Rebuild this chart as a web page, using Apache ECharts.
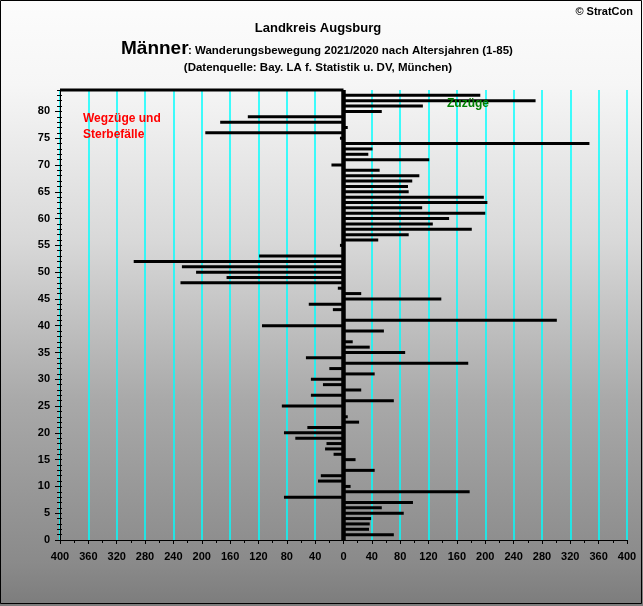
<!DOCTYPE html>
<html>
<head>
<meta charset="utf-8">
<script src="https://cdn.jsdelivr.net/npm/echarts@6/dist/echarts.min.js"></script>
<style>
html,body{margin:0;padding:0;background:#fff;}
#chart{width:643px;height:606px;}
</style>
</head>
<body>
<div id="chart"></div>
<script>
// Age categories (0..84) on the vertical axis
const ages = [];
for (let a = 0; a <= 84; a++) ages.push(String(a));

// Net migration (Zuzüge minus Wegzüge/Sterbefälle), men, per age 1..84 (index 0 = age 0, empty)
const netValues = [
  null,
  71, 36, 37, 39, 85, 54, 98, -84, 178, 10,
  -36, -32, 44, 0, 17, -14, -26, -24, -68, -84,
  -51, 22, 6, 0, -87, 71, -46, 25, -29, -46,
  44, -20, 176, -53, 87, 37, 13, 0, 57, -115,
  301, 0, -15, -49, 138, 25, -8, -230, -165, -208,
  -228, -296, -119, 0, -5, 49, 92, 181, 126, 149,
  200, 111, 203, 198, 92, 91, 97, 107, 51, -17,
  121, 35, 41, 347, -5, -195, 6, -174, -135, 54,
  112, 271, 193, -400
];

const xMin = -400, xMax = 400, xStep = 40;

const titleMain = 'Landkreis Augsburg';
const titleBig = 'Männer';
const titleRest = ': Wanderungsbewegung 2021/2020 nach Altersjahren (1-85)';
const titleSource = '(Datenquelle: Bay. LA f. Statistik u. DV, München)';
const copyright = '© StratCon';
const leftNote1 = 'Wegzüge und';
const leftNote2 = 'Sterbefälle';
const rightNote = 'Zuzüge';

const FONT = '"Liberation Sans", Arial, sans-serif';

const chart = echarts.init(document.getElementById('chart'), null, {renderer: 'canvas'});

function txt(text, x, y, size, weight, color, align) {
  return {
    type: 'text', z: 100, silent: true,
    style: {
      text: text, x: x, y: y,
      font: weight + ' ' + size + 'px ' + FONT,
      fill: color,
      textAlign: align, align: align,
      textVerticalAlign: 'middle', verticalAlign: 'middle'
    }
  };
}

const catAxisBase = {
  type: 'category',
  data: ages,
  boundaryGap: false,
  position: 'left',
  splitLine: {show: false}
};

const option = {
  animation: false,
  backgroundColor: {
    type: 'linear', x: 0, y: 0, x2: 0, y2: 1,
    colorStops: [
      {offset: 0, color: '#fcfcfc'},
      {offset: 0.14, color: '#f6f6f6'},
      {offset: 0.40, color: '#d8d8d8'},
      {offset: 0.66, color: '#a9a9a9'},
      {offset: 0.93, color: '#8a8a8a'},
      {offset: 1, color: '#7c7c7c'}
    ]
  },
  grid: {left: 60, right: 16, top: 90, bottom: 66, containLabel: false},
  xAxis: {
    type: 'value',
    min: xMin, max: xMax, interval: xStep,
    axisLine: {show: true, onZero: false, lineStyle: {color: '#000', width: 1}},
    axisTick: {show: true, length: 4, lineStyle: {color: '#000', width: 1}},
    minorTick: {show: true, splitNumber: 2, length: 3, lineStyle: {color: '#000', width: 1}},
    axisLabel: {
      color: '#000', fontFamily: FONT, fontWeight: 'bold', fontSize: 11, margin: 11,
      formatter: function (v) { return String(Math.abs(v)); }
    },
    splitLine: {show: true, lineStyle: {color: '#00ffff', width: 1.5}},
    minorSplitLine: {show: false}
  },
  yAxis: [
    Object.assign({}, catAxisBase, {
      axisLine: {show: true, onZero: false, lineStyle: {color: '#000', width: 1}},
      axisTick: {show: true, interval: 0, length: 3, lineStyle: {color: '#000', width: 1}},
      axisLabel: {
        show: true, interval: 4, color: '#000', fontFamily: FONT, fontWeight: 'bold',
        fontSize: 11, margin: 10
      }
    }),
    Object.assign({}, catAxisBase, {
      axisLine: {show: false, onZero: false},
      axisTick: {show: true, interval: 4, length: 5, lineStyle: {color: '#000', width: 1}},
      axisLabel: {show: false}
    }),
    Object.assign({}, catAxisBase, {
      axisLine: {show: false, onZero: false},
      axisTick: {show: true, inside: true, interval: 0, length: 2, lineStyle: {color: '#000', width: 1}},
      axisLabel: {show: false}
    })
  ],
  series: [{
    type: 'bar',
    xAxisIndex: 0,
    yAxisIndex: 0,
    data: netValues,
    barWidth: 3,
    clip: true,
    itemStyle: {color: '#000'},
    markLine: {
      silent: true,
      symbol: ['none', 'none'],
      label: {show: false},
      lineStyle: {color: '#000', width: 4.5, type: 'solid'},
      data: [{xAxis: 0}]
    }
  }],
  graphic: [
    {
      type: 'rect', z: 100, silent: true,
      shape: {x: 0.5, y: 0.5, width: 641, height: 603},
      style: {fill: 'none', stroke: '#000', lineWidth: 1}
    },
    txt(copyright, 633, 12, 11, 'bold', '#000', 'right'),
    txt(titleMain, 318, 28, 13, 'bold', '#000', 'center'),
    txt(titleBig, 121, 48.5, 19, 'bold', '#000', 'left'),
    txt(titleRest, 188, 51, 11.5, 'bold', '#000', 'left'),
    txt(titleSource, 318, 68, 11.5, 'bold', '#000', 'center'),
    txt(leftNote1, 83, 119, 12, 'bold', '#ff0000', 'left'),
    txt(leftNote2, 83, 135, 12, 'bold', '#ff0000', 'left'),
    txt(rightNote, 447, 104, 12, 'bold', '#008000', 'left')
  ]
};

chart.setOption(option);
</script>
</body>
</html>
